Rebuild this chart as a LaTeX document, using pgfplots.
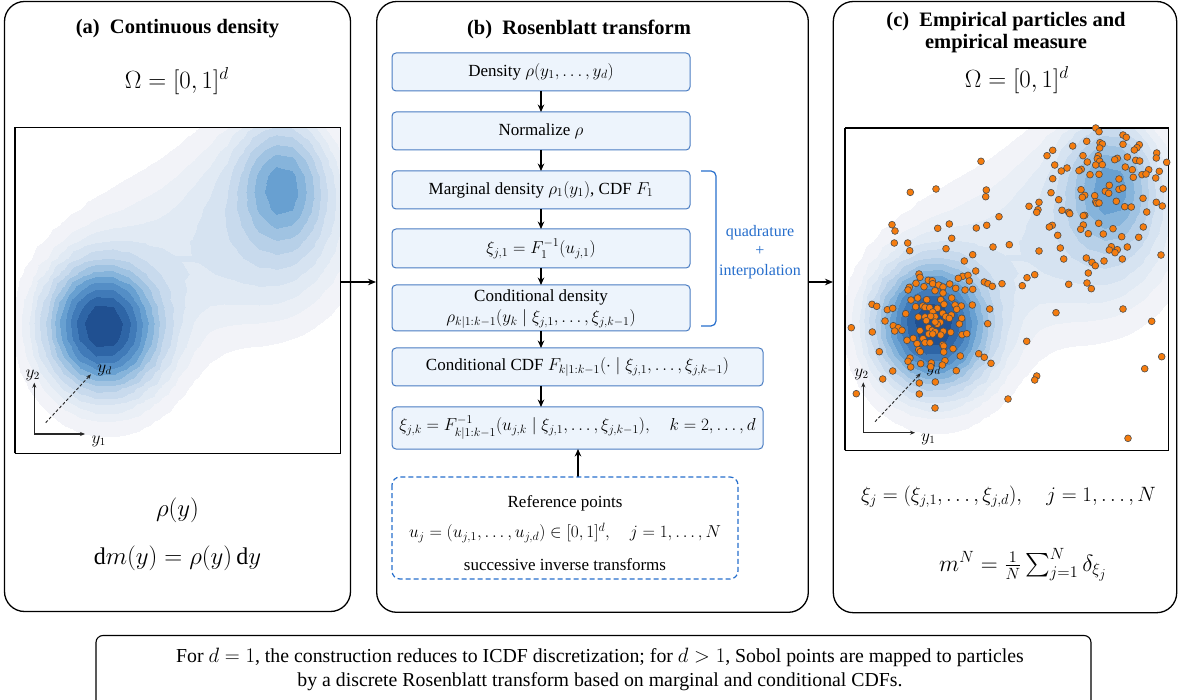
\documentclass[border=0pt]{standalone}
\usepackage{amsmath}
\usepackage{fontspec}
\setmainfont{Liberation Serif}
\usepackage{pgfplots}
\pgfplotsset{compat=1.18}
\usepackage{pgfplotstable}
\usetikzlibrary{arrows.meta}

\definecolor{boxfill}{RGB}{237,244,252}
\definecolor{boxdraw}{RGB}{74,124,194}
\definecolor{bluetxt}{RGB}{38,110,204}
\definecolor{ptorange}{RGB}{245,124,14}

\pgfplotsset{colormap={kde}{rgb255(0pt)=(255,255,255) rgb255(4pt)=(242,243,248) rgb255(6.5pt)=(234,239,246) rgb255(9pt)=(225,234,244) rgb255(12pt)=(214,227,241) rgb255(16pt)=(200,218,237) rgb255(21pt)=(183,208,232) rgb255(27pt)=(160,195,226) rgb255(34pt)=(134,180,219) rgb255(42pt)=(104,160,209) rgb255(52pt)=(84,142,198) rgb255(64pt)=(64,122,184) rgb255(78pt)=(46,101,166) rgb255(94pt)=(32,80,145) rgb255(117pt)=(32,80,145)}}

\pgfplotstableread{
x y z
0 0 0.005
0.05 0 0.008
0.1 0 0.012
0.15 0 0.017
0.2 0 0.020
0.25 0 0.023
0.3 0 0.023
0.35 0 0.021
0.4 0 0.018
0.45 0 0.013
0.5 0 0.009
0.55 0 0.006
0.6 0 0.004
0.65 0 0.002
0.7 0 0.002
0.75 0 0.001
0.8 0 0.001
0.85 0 0.001
0.9 0 0.001
0.95 0 0.001
1 0 0.001
0 0.05 0.008
0.05 0.05 0.014
0.1 0.05 0.020
0.15 0.05 0.028
0.2 0.05 0.035
0.25 0.05 0.039
0.3 0.05 0.040
0.35 0.05 0.036
0.4 0.05 0.029
0.45 0.05 0.023
0.5 0.05 0.016
0.55 0.05 0.010
0.6 0.05 0.007
0.65 0.05 0.004
0.7 0.05 0.003
0.75 0.05 0.002
0.8 0.05 0.002
0.85 0.05 0.002
0.9 0.05 0.001
0.95 0.05 0.001
1 0.05 0.001
0 0.1 0.012
0.05 0.1 0.021
0.1 0.1 0.032
0.15 0.1 0.045
0.2 0.1 0.057
0.25 0.1 0.065
0.3 0.1 0.066
0.35 0.1 0.059
0.4 0.1 0.047
0.45 0.1 0.035
0.5 0.1 0.024
0.55 0.1 0.016
0.6 0.1 0.010
0.65 0.1 0.007
0.7 0.1 0.005
0.75 0.1 0.004
0.8 0.1 0.004
0.85 0.1 0.003
0.9 0.1 0.003
0.95 0.1 0.002
1 0.1 0.002
0 0.15 0.018
0.05 0.15 0.031
0.1 0.15 0.049
0.15 0.15 0.075
0.2 0.15 0.102
0.25 0.15 0.122
0.3 0.15 0.122
0.35 0.15 0.103
0.4 0.15 0.077
0.45 0.15 0.054
0.5 0.15 0.037
0.55 0.15 0.024
0.6 0.15 0.016
0.65 0.15 0.011
0.7 0.15 0.008
0.75 0.15 0.007
0.8 0.15 0.006
0.85 0.15 0.006
0.9 0.15 0.005
0.95 0.15 0.004
1 0.15 0.003
0 0.2 0.024
0.05 0.2 0.044
0.1 0.2 0.076
0.15 0.2 0.128
0.2 0.2 0.193
0.25 0.2 0.240
0.3 0.2 0.237
0.35 0.2 0.189
0.4 0.2 0.128
0.45 0.2 0.082
0.5 0.2 0.052
0.55 0.2 0.034
0.6 0.2 0.023
0.65 0.2 0.017
0.7 0.2 0.014
0.75 0.2 0.012
0.8 0.2 0.011
0.85 0.2 0.010
0.9 0.2 0.008
0.95 0.2 0.007
1 0.2 0.005
0 0.25 0.031
0.05 0.25 0.060
0.1 0.25 0.118
0.15 0.25 0.223
0.2 0.25 0.362
0.25 0.25 0.464
0.3 0.25 0.456
0.35 0.25 0.345
0.4 0.25 0.214
0.45 0.25 0.122
0.5 0.25 0.072
0.55 0.25 0.047
0.6 0.25 0.033
0.65 0.25 0.026
0.7 0.25 0.022
0.75 0.25 0.020
0.8 0.25 0.018
0.85 0.25 0.016
0.9 0.25 0.014
0.95 0.25 0.011
1 0.25 0.008
0 0.3 0.038
0.05 0.3 0.079
0.1 0.3 0.171
0.15 0.3 0.350
0.2 0.3 0.596
0.25 0.3 0.780
0.3 0.3 0.763
0.35 0.3 0.562
0.4 0.3 0.329
0.45 0.3 0.172
0.5 0.3 0.095
0.55 0.3 0.061
0.6 0.3 0.045
0.65 0.3 0.037
0.7 0.3 0.033
0.75 0.3 0.031
0.8 0.3 0.029
0.85 0.3 0.026
0.9 0.3 0.022
0.95 0.3 0.017
1 0.3 0.013
0 0.35 0.043
0.05 0.35 0.093
0.1 0.35 0.215
0.15 0.35 0.463
0.2 0.35 0.806
0.25 0.35 1.064
0.3 0.35 1.039
0.35 0.35 0.756
0.4 0.35 0.430
0.45 0.35 0.216
0.5 0.35 0.117
0.55 0.35 0.076
0.6 0.35 0.058
0.65 0.35 0.051
0.7 0.35 0.048
0.75 0.35 0.047
0.8 0.35 0.044
0.85 0.35 0.040
0.9 0.35 0.034
0.95 0.35 0.027
1 0.35 0.019
0 0.4 0.044
0.05 0.4 0.097
0.1 0.4 0.228
0.15 0.4 0.495
0.2 0.4 0.867
0.25 0.4 1.146
0.3 0.4 1.120
0.35 0.4 0.815
0.4 0.4 0.464
0.45 0.4 0.235
0.5 0.4 0.130
0.55 0.4 0.089
0.6 0.4 0.073
0.65 0.4 0.068
0.7 0.4 0.066
0.75 0.4 0.065
0.8 0.4 0.062
0.85 0.4 0.056
0.9 0.4 0.047
0.95 0.4 0.038
1 0.4 0.027
0 0.45 0.041
0.05 0.45 0.088
0.1 0.45 0.200
0.15 0.45 0.425
0.2 0.45 0.735
0.25 0.45 0.970
0.3 0.45 0.951
0.35 0.45 0.700
0.4 0.45 0.411
0.45 0.45 0.221
0.5 0.45 0.135
0.55 0.45 0.101
0.6 0.45 0.089
0.65 0.45 0.087
0.7 0.45 0.087
0.75 0.45 0.087
0.8 0.45 0.085
0.85 0.45 0.077
0.9 0.45 0.065
0.95 0.45 0.051
1 0.45 0.037
0 0.5 0.035
0.05 0.5 0.071
0.1 0.5 0.149
0.15 0.5 0.299
0.2 0.5 0.502
0.25 0.5 0.656
0.3 0.5 0.648
0.35 0.5 0.492
0.4 0.5 0.309
0.45 0.5 0.188
0.5 0.5 0.132
0.55 0.5 0.110
0.6 0.5 0.104
0.65 0.5 0.106
0.7 0.5 0.110
0.75 0.5 0.113
0.8 0.5 0.111
0.85 0.5 0.102
0.9 0.5 0.085
0.95 0.5 0.066
1 0.5 0.048
0 0.55 0.028
0.05 0.55 0.053
0.1 0.55 0.100
0.15 0.55 0.183
0.2 0.55 0.290
0.25 0.55 0.372
0.3 0.55 0.374
0.35 0.55 0.302
0.4 0.55 0.215
0.45 0.55 0.155
0.5 0.55 0.127
0.55 0.55 0.117
0.6 0.55 0.118
0.65 0.55 0.125
0.7 0.55 0.134
0.75 0.55 0.144
0.8 0.55 0.146
0.85 0.55 0.135
0.9 0.55 0.111
0.95 0.55 0.084
1 0.55 0.059
0 0.6 0.022
0.05 0.6 0.039
0.1 0.6 0.066
0.15 0.6 0.107
0.2 0.6 0.158
0.25 0.6 0.197
0.3 0.6 0.205
0.35 0.6 0.183
0.4 0.6 0.152
0.45 0.6 0.131
0.5 0.6 0.121
0.55 0.6 0.121
0.6 0.6 0.128
0.65 0.6 0.141
0.7 0.6 0.160
0.75 0.6 0.183
0.8 0.6 0.196
0.85 0.6 0.182
0.9 0.6 0.144
0.95 0.6 0.103
1 0.6 0.070
0 0.65 0.016
0.05 0.65 0.028
0.1 0.65 0.044
0.15 0.65 0.067
0.2 0.65 0.092
0.25 0.65 0.112
0.3 0.65 0.122
0.35 0.65 0.121
0.4 0.65 0.116
0.45 0.65 0.113
0.5 0.65 0.115
0.55 0.65 0.122
0.6 0.65 0.134
0.65 0.65 0.155
0.7 0.65 0.189
0.75 0.65 0.236
0.8 0.65 0.268
0.85 0.65 0.251
0.9 0.65 0.190
0.95 0.65 0.126
1 0.65 0.080
0 0.7 0.011
0.05 0.7 0.019
0.1 0.7 0.030
0.15 0.7 0.044
0.2 0.7 0.059
0.25 0.7 0.073
0.3 0.7 0.083
0.35 0.7 0.089
0.4 0.7 0.093
0.45 0.7 0.098
0.5 0.7 0.106
0.55 0.7 0.117
0.6 0.7 0.134
0.65 0.7 0.163
0.7 0.7 0.217
0.75 0.7 0.299
0.8 0.7 0.360
0.85 0.7 0.339
0.9 0.7 0.246
0.95 0.7 0.150
1 0.7 0.088
0 0.75 0.008
0.05 0.75 0.013
0.1 0.75 0.021
0.15 0.75 0.030
0.2 0.75 0.040
0.25 0.75 0.051
0.3 0.75 0.060
0.35 0.75 0.068
0.4 0.75 0.076
0.45 0.75 0.084
0.5 0.75 0.094
0.55 0.75 0.109
0.6 0.75 0.129
0.65 0.75 0.165
0.7 0.75 0.240
0.75 0.75 0.357
0.8 0.75 0.450
0.85 0.75 0.426
0.9 0.75 0.299
0.95 0.75 0.171
1 0.75 0.093
0 0.8 0.005
0.05 0.8 0.009
0.1 0.8 0.014
0.15 0.8 0.021
0.2 0.8 0.028
0.25 0.8 0.036
0.3 0.8 0.044
0.35 0.8 0.052
0.4 0.8 0.060
0.45 0.8 0.069
0.5 0.8 0.081
0.55 0.8 0.096
0.6 0.8 0.117
0.65 0.8 0.157
0.7 0.8 0.244
0.75 0.8 0.384
0.8 0.8 0.496
0.85 0.8 0.471
0.9 0.8 0.324
0.95 0.8 0.177
1 0.8 0.092
0 0.85 0.003
0.05 0.85 0.006
0.1 0.85 0.009
0.15 0.85 0.014
0.2 0.85 0.019
0.25 0.85 0.025
0.3 0.85 0.032
0.35 0.85 0.039
0.4 0.85 0.046
0.45 0.85 0.055
0.5 0.85 0.066
0.55 0.85 0.081
0.6 0.85 0.101
0.65 0.85 0.140
0.7 0.85 0.225
0.75 0.85 0.362
0.8 0.85 0.473
0.85 0.85 0.449
0.9 0.85 0.307
0.95 0.85 0.166
1 0.85 0.084
0 0.9 0.002
0.05 0.9 0.004
0.1 0.9 0.006
0.15 0.9 0.009
0.2 0.9 0.013
0.25 0.9 0.017
0.3 0.9 0.022
0.35 0.9 0.028
0.4 0.9 0.034
0.45 0.9 0.042
0.5 0.9 0.052
0.55 0.9 0.065
0.6 0.9 0.082
0.65 0.9 0.115
0.7 0.9 0.184
0.75 0.9 0.294
0.8 0.9 0.382
0.85 0.9 0.363
0.9 0.9 0.250
0.95 0.9 0.136
1 0.9 0.070
0 0.95 0.001
0.05 0.95 0.002
0.1 0.95 0.004
0.15 0.95 0.006
0.2 0.95 0.008
0.25 0.95 0.011
0.3 0.95 0.015
0.35 0.95 0.019
0.4 0.95 0.024
0.45 0.95 0.030
0.5 0.95 0.039
0.55 0.95 0.049
0.6 0.95 0.064
0.65 0.95 0.088
0.7 0.95 0.135
0.75 0.95 0.208
0.8 0.95 0.266
0.85 0.95 0.253
0.9 0.95 0.177
0.95 0.95 0.101
1 0.95 0.054
0 1 0.001
0.05 1 0.001
0.1 1 0.002
0.15 1 0.004
0.2 1 0.005
0.25 1 0.007
0.3 1 0.010
0.35 1 0.013
0.4 1 0.016
0.45 1 0.021
0.5 1 0.028
0.55 1 0.036
0.6 1 0.046
0.65 1 0.062
0.7 1 0.090
0.75 1 0.131
0.8 1 0.162
0.85 1 0.154
0.9 1 0.111
0.95 1 0.067
1 1 0.039
}\kde

\pgfplotstableread{
px py
981.0 161.3
910.3 192.3
936.0 189.0
986.3 190.0
985.7 196.7
999.0 216.7
892.0 224.7
895.0 231.0
949.3 224.0
937.7 228.3
976.3 228.0
986.7 225.3
951.7 238.3
894.3 243.0
907.7 243.0
909.7 250.7
946.0 248.7
993.0 247.0
972.7 254.7
964.3 261.0
1095.7 128.0
1099.0 131.7
1123.0 135.0
1126.3 137.3
1086.7 141.3
1100.0 142.7
1102.3 144.0
1123.0 144.3
1072.7 146.0
1139.3 144.7
1137.0 147.7
1134.3 150.0
1099.7 148.0
1052.7 150.3
1156.7 153.0
1047.0 155.7
1083.0 155.7
1098.3 155.7
1097.3 158.7
1127.3 157.0
1117.3 158.3
1114.7 159.7
1156.3 158.0
1135.7 160.3
1139.7 161.0
1099.7 161.3
1087.3 162.0
1166.7 162.3
1054.7 165.0
1095.7 165.0
1102.3 164.7
1125.3 167.0
1067.0 168.0
1061.3 171.0
1081.3 169.3
1079.0 170.7
1132.3 169.7
1148.7 169.7
1159.3 171.3
1090.0 174.7
1099.0 174.3
1142.0 174.7
1146.0 174.0
1052.7 178.7
1119.0 179.0
1133.3 177.3
1155.7 178.0
1109.3 185.3
1081.0 189.7
1105.3 191.3
1108.7 193.3
1119.0 189.3
1122.7 188.0
1163.3 189.0
1051.0 192.7
1084.7 195.3
1082.3 197.3
1094.7 195.7
1058.7 199.7
1143.0 198.3
1039.0 202.3
1095.7 201.7
1096.7 203.3
1099.0 203.0
1116.3 201.3
1156.3 202.3
1029.0 206.3
1124.7 206.7
1131.3 207.0
1162.3 206.0
1038.0 209.7
1036.7 212.3
1062.0 210.3
1068.7 212.3
1069.7 213.7
1146.7 212.0
1084.7 215.3
1083.3 215.7
1098.7 223.3
1083.3 225.0
1052.3 225.3
1049.3 227.0
1080.7 229.3
1113.0 228.7
1143.3 227.0
1057.7 235.3
1088.3 233.7
1103.3 234.0
1121.7 236.7
1138.7 237.3
1009.3 244.7
1060.3 248.0
1111.3 246.7
1127.3 247.0
1109.3 250.0
1117.3 249.7
1115.0 252.7
1039.0 251.0
1161.0 255.0
1063.7 259.0
1086.3 258.0
1104.0 261.0
1122.3 259.0
1092.0 262.3
1095.3 265.7
975.7 271.0
919.0 274.0
920.0 277.3
962.7 276.3
968.0 275.3
958.3 278.3
969.3 281.0
928.3 280.3
932.3 280.7
916.0 283.3
932.7 283.7
938.7 285.0
949.7 284.0
984.3 282.0
988.0 283.7
992.3 286.3
924.0 286.7
943.0 287.0
909.3 287.3
908.0 290.0
955.7 288.3
965.0 290.0
972.7 289.3
935.0 290.7
943.0 293.0
917.7 298.0
951.7 298.0
911.0 300.0
926.7 299.7
940.7 299.7
872.0 304.3
876.7 306.3
915.7 306.7
922.7 306.0
925.0 307.3
929.7 307.7
937.3 308.3
944.0 304.3
955.0 305.0
961.3 306.0
972.3 305.0
887.3 309.7
892.7 308.3
956.7 309.3
989.7 309.0
905.7 313.7
932.7 312.0
942.7 313.3
935.0 316.7
951.3 315.0
918.3 317.0
925.0 317.0
930.7 316.3
945.7 316.7
949.3 318.3
961.7 318.3
885.0 321.0
926.3 320.7
940.3 322.3
937.3 324.3
935.0 322.0
959.3 324.0
987.7 323.7
893.3 325.7
898.3 327.7
928.7 327.7
932.3 330.3
851.3 327.7
872.3 332.0
894.7 331.0
902.0 330.3
920.0 330.7
935.3 331.7
943.3 331.3
950.7 332.3
928.7 334.0
932.7 334.0
940.7 335.0
962.0 334.7
966.7 333.7
913.3 338.3
907.0 340.3
923.0 338.7
917.0 343.7
925.0 342.7
930.0 342.7
942.7 344.7
953.0 348.7
943.7 346.0
918.7 349.7
920.3 351.7
879.3 351.7
943.7 352.0
960.3 356.0
978.7 353.7
984.3 357.3
991.0 363.3
910.0 358.0
908.0 361.3
945.0 360.7
920.7 363.7
931.3 363.0
910.7 367.0
930.7 366.7
942.3 365.0
892.7 371.0
956.3 370.7
882.7 379.0
919.3 383.0
935.3 382.0
856.3 393.7
919.3 394.0
935.0 408.0
1088.3 273.0
1002.0 283.7
1027.0 277.7
1034.7 274.7
1022.3 285.7
1068.7 284.3
1087.0 283.0
1091.3 288.7
1123.0 309.0
1056.0 312.7
1151.7 321.3
1026.7 341.3
1161.7 356.7
1144.7 368.7
1036.7 376.0
1034.7 380.0
1008.0 399.0
1128.0 438.3
}\pts

\tikzset{
  body/.style={font=\fontsize{17}{20}\selectfont},
  ttl/.style={font=\fontsize{20.5}{24}\selectfont\bfseries},
  bigm/.style={font=\fontsize{24}{28}\selectfont},
  flow/.style={draw=boxdraw, fill=boxfill, rounded corners=4pt, line width=1pt},
  arr/.style={-{Stealth[length=7.5pt,width=6.5pt]}, line width=1.3pt},
  ax/.style={-{Stealth[length=5pt,width=4pt]}, line width=1.1pt, black!85},
  axd/.style={-{Stealth[length=5pt,width=4pt]}, line width=0.9pt, dash pattern=on 3pt off 2pt, black!85},
  axl/.style={font=\fontsize{16}{18}\selectfont},
}
\pgfplotsset{kdeaxis/.style={anchor=south west, scale only axis, view={0}{90},
  xmin=0, xmax=1, ymin=0, ymax=1, enlargelimits=false, ticks=none,
  axis line style={line width=1.2pt, black},
  colormap name=kde, colormap access=piecewise constant,
  point meta min=0, point meta max=1.17}}

\begin{document}
\begin{tikzpicture}
\begin{scope}[x=1pt,y=-1pt]
\useasboundingbox (0,0) rectangle (1178,700);
% panel frames
\draw[line width=1.3pt, rounded corners=20pt] (4.5,1.5) rectangle (350.5,611.5);
\draw[line width=1.3pt, rounded corners=20pt] (376.7,1.5) rectangle (808.3,612.3);
\draw[line width=1.3pt, rounded corners=20pt] (833.3,1.5) rectangle (1176.7,612.7);
\draw[line width=1.1pt, rounded corners=7pt] (96,635.5) rectangle (1091,720);
\end{scope}

% panel (a) density
\begin{axis}[kdeaxis, at={(15pt,-453.3pt)}, width=325.7pt, height=326pt]
\addplot3[surf, shader=interp, mesh/rows=21, mesh/cols=21] table[x=x,y=y,z=z] {\kde};
\end{axis}
% panel (c) density
\begin{axis}[kdeaxis, at={(845pt,-450.5pt)}, width=323.5pt, height=322.5pt]
\addplot3[surf, shader=interp, mesh/rows=21, mesh/cols=21] table[x=x,y=y,z=z] {\kde};
\end{axis}

\begin{scope}[x=1pt,y=-1pt]
% titles
\node[ttl] at (177.5,29) {(a)\enspace Continuous density};
\node[ttl] at (579,29) {(b)\enspace Rosenblatt transform};
\node[ttl] at (1006,22) {(c)\enspace Empirical particles and};
\node[ttl] at (1006,44) {empirical measure};
\node[bigm] at (176.7,81) {$\Omega = [0,1]^d$};
\node[bigm] at (1016.7,80) {$\Omega = [0,1]^d$};
% panel (a) formulas
\node[bigm] at (177.5,510) {$\rho(y)$};
\node[bigm] at (177.5,558) {$\mathrm{d}m(y) = \rho(y)\,\mathrm{d}y$};
% panel (c) formulas
\node[font=\fontsize{21}{25}\selectfont] at (1008.5,497) {$\xi_j = (\xi_{j,1},\dots,\xi_{j,d}), \quad j = 1,\dots,N$};
\node[font=\fontsize{20.74}{25}\selectfont, scale=1.13] at (1023,565) {$m^N = \frac{1}{N}\sum_{j=1}^N \delta_{\xi_j}$};

% axes glyphs (a)
\draw[ax] (34.3,434) -- (34.3,382.7);
\draw[ax] (34.3,434) -- (85,434);
\draw[axd] (45.7,422.7) -- (91,374.3);
\node[axl] at (32.7,375) {$y_2$};
\node[axl] at (98.8,441) {$y_1$};
\node[axl] at (104.5,370) {$y_d$};
% axes glyphs (c)
\draw[ax] (863.3,432.7) -- (863.3,382.3);
\draw[ax] (863.3,432.7) -- (915,432.7);
\draw[axd] (875,421.7) -- (920.7,373.3);
\node[axl] at (861.5,374) {$y_2$};
\node[axl] at (928.3,439.3) {$y_1$};
\node[axl] at (933.7,370) {$y_d$};

% flow boxes
\draw[flow] (392,53) rectangle (690,91);
\node[body] at (541,72) {Density $\rho(y_1,\dots,y_d)$};
\draw[flow] (392,112) rectangle (690,150);
\node[body] at (541,131) {Normalize $\rho$};
\draw[flow] (392,171) rectangle (690,209);
\node[body] at (541,190) {Marginal density $\rho_1(y_1)$, CDF $F_1$};
\draw[flow] (392,229) rectangle (690,268);
\node[body] at (541,249) {$\xi_{j,1} = F_1^{-1}(u_{j,1})$};
\draw[flow] (392,285) rectangle (690,331);
\node[body] at (541,297) {Conditional density};
\node[body] at (541,319) {$\rho_{k|1:k-1}(y_k \mid \xi_{j,1},\dots,\xi_{j,k-1})$};
\draw[flow] (392,348) rectangle (763,386);
\node[body] at (577.5,367) {Conditional CDF $F_{k|1:k-1}(\cdot \mid \xi_{j,1},\dots,\xi_{j,k-1})$};
\draw[flow] (392,407) rectangle (763,449);
\node[body] at (577.5,428) {$\xi_{j,k} = F^{-1}_{k|1:k-1}(u_{j,k} \mid \xi_{j,1},\dots,\xi_{j,k-1}), \quad k = 2,\dots,d$};
% arrows
\draw[arr] (541,91) -- (541,112);
\draw[arr] (541,150) -- (541,171);
\draw[arr] (541,209) -- (541,229);
\draw[arr] (541,268) -- (541,285);
\draw[arr] (541,331) -- (541,348);
\draw[arr] (541,386) -- (541,407);
\draw[arr] (578,477) -- (578,449);
% dashed reference box
\draw[bluetxt, line width=1.2pt, dash pattern=on 5pt off 3pt, rounded corners=8pt] (392,477) rectangle (738,579);
\node[body] at (565,503) {Reference points};
\node[body] at (565,533) {$u_j = (u_{j,1},\dots,u_{j,d}) \in [0,1]^d, \quad j = 1,\dots,N$};
\node[body] at (565,565) {successive inverse transforms};
% bracket
\draw[bluetxt, line width=1.2pt, rounded corners=5pt] (701,171) -- (716,171) -- (716,326) -- (701,326);
\node[bluetxt, font=\fontsize{16}{19.5}\selectfont, align=center] at (760,252) {quadrature\\+\\interpolation};
% panel arrows
\draw[-{Stealth[length=8pt,width=6.5pt]}, line width=1.4pt] (341,282) -- (376,282);
\draw[-{Stealth[length=8pt,width=6.5pt]}, line width=1.4pt] (808.3,282) -- (833,282);
% caption
\node[font=\fontsize{19.8}{24}\selectfont, align=center] at (600,669) {For $d = 1$, the construction reduces to ICDF discretization; for $d > 1$, Sobol points are mapped to particles\\by a discrete Rosenblatt transform based on marginal and conditional CDFs.};
\end{scope}

% particles
\begin{axis}[at={(845pt,-450.5pt)}, anchor=south west, scale only axis, width=323.5pt, height=322.5pt,
  xmin=845, xmax=1168.5, ymin=128, ymax=450.5, y dir=reverse, hide axis]
\addplot[only marks, mark=*, mark size=3.4pt, mark options={fill=ptorange, draw=black!70, line width=0.6pt}] table[x=px,y=py] {\pts};
\end{axis}
\end{tikzpicture}
\end{document}
